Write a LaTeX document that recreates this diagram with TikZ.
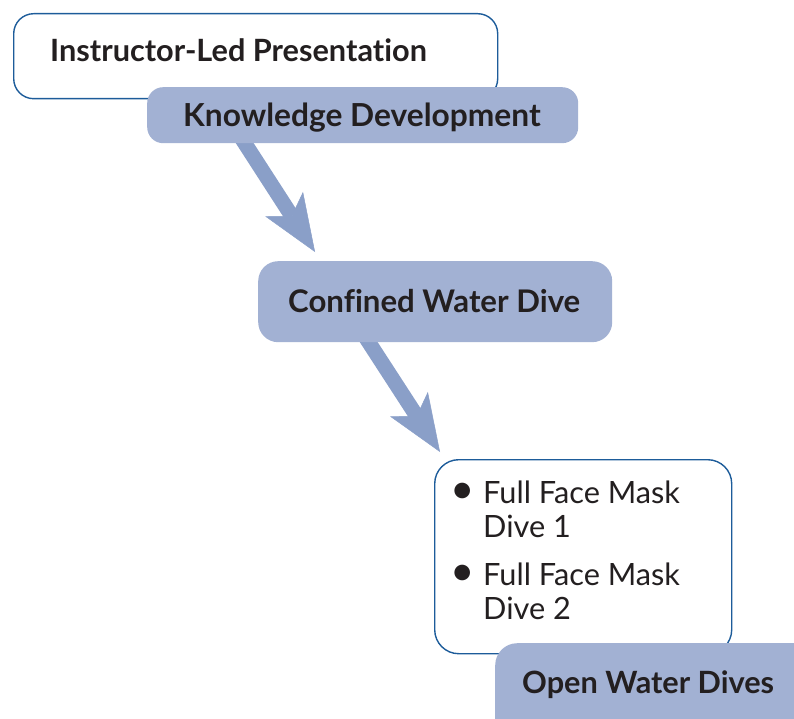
\documentclass[tikz,border=0pt]{standalone}
\usepackage{fontspec}
\setmainfont{Lato}[Ligatures={NoCommon}]
\usetikzlibrary{arrows.meta,backgrounds}
\definecolor{boxfill}{HTML}{A2B1D3}
\definecolor{arrowc}{HTML}{8A9FC8}
\definecolor{borderc}{HTML}{1D5C9A}
\definecolor{txtc}{HTML}{231F20}
\tikzset{
  whitebox/.style={draw=borderc, line width=1.4pt, fill=white, anchor=north west, inner sep=0pt},
  bluebox/.style={draw=none, fill=boxfill, anchor=north west, inner sep=0pt},
  head/.style={anchor=base west, inner sep=0pt, text=txtc, font=\fontsize{30.7}{30.7}\selectfont\bfseries},
  body/.style={anchor=base west, inner sep=0pt, text=txtc, font=\fontsize{30.7}{30.7}\selectfont},
  bul/.style={anchor=center, inner sep=0pt, text=txtc, font=\fontsize{42}{42}\selectfont},
  bigarrow/.style={draw=arrowc, line width=15pt, -{Stealth[length=57pt,width=45pt,inset=14pt,line width=0.5pt]}}
}
\begin{document}
\begin{tikzpicture}[x=1pt,y=-1pt]
\useasboundingbox (0,0) rectangle (794,719);
\clip (0,0) rectangle (794,719);
% boxes
\node[whitebox, rounded corners=20pt, minimum width=484pt, minimum height=85pt] (ilp) at (13,13) {};
\node[bluebox, rounded corners=16pt, minimum width=431pt, minimum height=56pt] (kd) at (147,87) {};
\node[bluebox, rounded corners=20pt, minimum width=354pt, minimum height=81pt] (cwd) at (258,261) {};
\node[whitebox, rounded corners=24pt, minimum width=297pt, minimum height=194pt] (ffm) at (434,459) {};
\node[bluebox, rounded corners=22pt, minimum width=330pt, minimum height=100pt] (owd) at (495,643) {};
% texts
\node[head] (t1) at ([shift={(37,49)}]ilp.north west) {Instructor-Led Presentation};
\node[head, font=\fontsize{31.7}{31.7}\selectfont\bfseries] (t2) at ([shift={(36,40)}]kd.north west) {Knowledge Development};
\node[head, font=\fontsize{31.2}{31.2}\selectfont\bfseries] (t3) at ([shift={(30,51)}]cwd.north west) {Confined Water Dive};
\node[head] (t5) at ([shift={(27,50)}]owd.north west) {Open Water Dives};
\node[bul] (b1) at ([shift={(29,34)}]ffm.north west) {•};
\node[body] (l1) at ([shift={(49,44)}]ffm.north west) {Full Face Mask};
\node[body] (l2) at ([shift={(49,78)}]ffm.north west) {Dive 1};
\node[bul] (b2) at ([shift={(29,116)}]ffm.north west) {•};
\node[body] (l3) at ([shift={(49,126)}]ffm.north west) {Full Face Mask};
\node[body] (l4) at ([shift={(49,160)}]ffm.north west) {Dive 2};
% arrows
\coordinate (a1s) at ([shift={(94,-6)}]kd.south west);
\coordinate (a1e) at ([shift={(57,-9)}]cwd.north west);
\coordinate (a2s) at ([shift={(107,-6)}]cwd.south west);
\coordinate (a2e) at ([shift={(6,-7)}]ffm.north west);
\begin{pgfonlayer}{background}
\draw[bigarrow] (a1s) -- (a1e);
\draw[bigarrow] (a2s) -- (a2e);
\end{pgfonlayer}
\end{tikzpicture}
\end{document}
